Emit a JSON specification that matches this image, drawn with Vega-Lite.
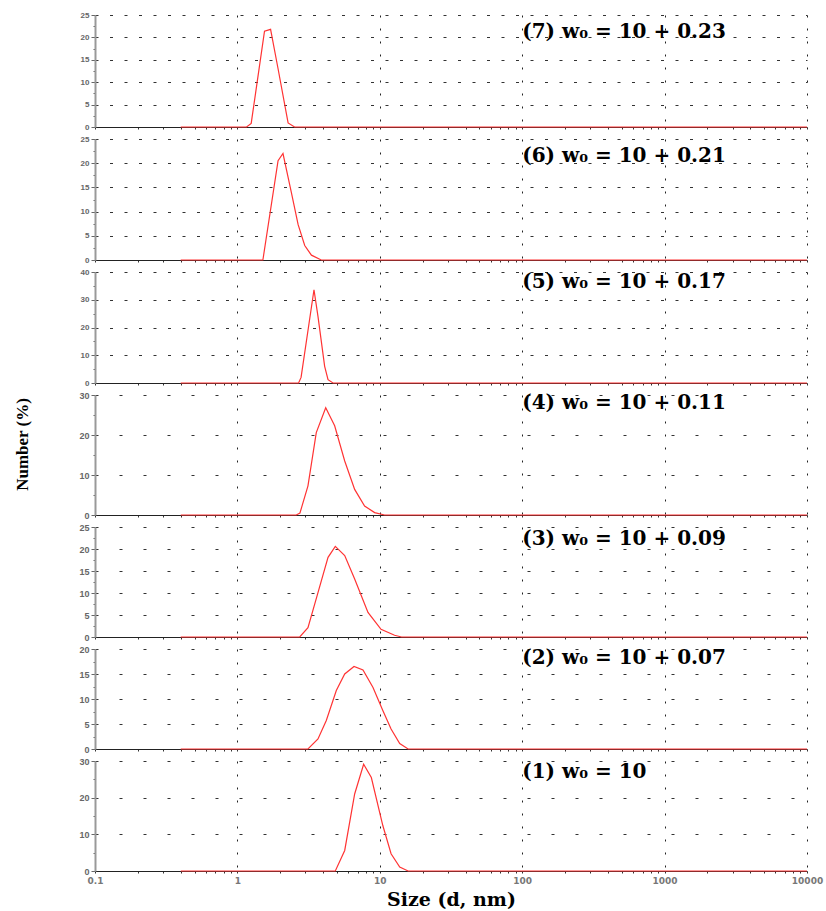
{
  "$schema": "https://vega.github.io/schema/vega-lite/v6.json",
  "background": "white",
  "padding": {"left": 13, "top": 11, "right": 5, "bottom": 5},
  "bounds": "flush",
  "spacing": 12,
  "config": {"view": {"stroke": null}},
  "datasets": {
    "dls": [
      {"panel": 7, "size": 0.4, "number": 0}, {"panel": 7, "size": 1.16, "number": 0}, {"panel": 7, "size": 1.25, "number": 0.8}, {"panel": 7, "size": 1.55, "number": 21.4}, {"panel": 7, "size": 1.71, "number": 21.8}, {"panel": 7, "size": 1.93, "number": 13}, {"panel": 7, "size": 2.27, "number": 0.9}, {"panel": 7, "size": 2.52, "number": 0}, {"panel": 7, "size": 10000, "number": 0},
      {"panel": 6, "size": 0.4, "number": 0}, {"panel": 6, "size": 1.51, "number": 0}, {"panel": 6, "size": 1.93, "number": 20.5}, {"panel": 6, "size": 2.09, "number": 22}, {"panel": 6, "size": 2.39, "number": 14}, {"panel": 6, "size": 2.67, "number": 7.3}, {"panel": 6, "size": 2.97, "number": 3}, {"panel": 6, "size": 3.31, "number": 1}, {"panel": 6, "size": 3.88, "number": 0}, {"panel": 6, "size": 10000, "number": 0},
      {"panel": 5, "size": 0.4, "number": 0}, {"panel": 5, "size": 2.69, "number": 0}, {"panel": 5, "size": 2.8, "number": 2}, {"panel": 5, "size": 3.45, "number": 33.6}, {"panel": 5, "size": 3.68, "number": 24}, {"panel": 5, "size": 4.1, "number": 6}, {"panel": 5, "size": 4.33, "number": 1.2}, {"panel": 5, "size": 4.69, "number": 0}, {"panel": 5, "size": 10000, "number": 0},
      {"panel": 4, "size": 0.4, "number": 0}, {"panel": 4, "size": 2.59, "number": 0}, {"panel": 4, "size": 2.75, "number": 0.5}, {"panel": 4, "size": 3.13, "number": 7.3}, {"panel": 4, "size": 3.58, "number": 20.6}, {"panel": 4, "size": 4.17, "number": 26.8}, {"panel": 4, "size": 4.82, "number": 22.3}, {"panel": 4, "size": 5.67, "number": 13.5}, {"panel": 4, "size": 6.66, "number": 6.4}, {"panel": 4, "size": 7.82, "number": 2.25}, {"panel": 4, "size": 9.2, "number": 0.6}, {"panel": 4, "size": 10.8, "number": 0}, {"panel": 4, "size": 10000, "number": 0},
      {"panel": 3, "size": 0.4, "number": 0}, {"panel": 3, "size": 2.74, "number": 0}, {"panel": 3, "size": 3.13, "number": 2.1}, {"panel": 3, "size": 3.68, "number": 10.1}, {"panel": 3, "size": 4.33, "number": 18.1}, {"panel": 3, "size": 4.87, "number": 20.6}, {"panel": 3, "size": 5.67, "number": 18.5}, {"panel": 3, "size": 6.66, "number": 13.2}, {"panel": 3, "size": 8.26, "number": 5.6}, {"panel": 3, "size": 10.2, "number": 1.75}, {"panel": 3, "size": 12.7, "number": 0.4}, {"panel": 3, "size": 14.2, "number": 0}, {"panel": 3, "size": 10000, "number": 0},
      {"panel": 2, "size": 0.4, "number": 0}, {"panel": 2, "size": 3.13, "number": 0}, {"panel": 2, "size": 3.68, "number": 2}, {"panel": 2, "size": 4.21, "number": 5.7}, {"panel": 2, "size": 4.95, "number": 11.7}, {"panel": 2, "size": 5.67, "number": 15}, {"panel": 2, "size": 6.59, "number": 16.5}, {"panel": 2, "size": 7.62, "number": 15.8}, {"panel": 2, "size": 8.96, "number": 12.3}, {"panel": 2, "size": 10.5, "number": 7.7}, {"panel": 2, "size": 12.0, "number": 4}, {"panel": 2, "size": 13.8, "number": 1.1}, {"panel": 2, "size": 15.8, "number": 0}, {"panel": 2, "size": 10000, "number": 0},
      {"panel": 1, "size": 0.4, "number": 0}, {"panel": 1, "size": 4.87, "number": 0}, {"panel": 1, "size": 5.67, "number": 5.6}, {"panel": 1, "size": 6.66, "number": 21}, {"panel": 1, "size": 7.7, "number": 29.1}, {"panel": 1, "size": 8.72, "number": 25.5}, {"panel": 1, "size": 10.5, "number": 12.4}, {"panel": 1, "size": 12.0, "number": 4.7}, {"panel": 1, "size": 13.8, "number": 1.1}, {"panel": 1, "size": 15.8, "number": 0}, {"panel": 1, "size": 10000, "number": 0}
    ]
  },
  "vconcat": [
    {
      "width": 712, "height": 112,
      "layer": [
        {
          "data": {"name": "dls"},
          "transform": [{"filter": "datum.panel == 7"}],
          "mark": {"type": "line", "color": "#ff3333", "strokeWidth": 1.2},
          "encoding": {
            "x": {"field": "size", "type": "quantitative", "scale": {"type": "log", "domain": [0.1, 10000], "nice": false},
              "axis": {"title": null, "labels": false, "tickCount": 200, "values": [0.1,0.2,0.3,0.4,0.5,0.6,0.7,0.8,0.9,1,2,3,4,5,6,7,8,9,10,20,30,40,50,60,70,80,90,100,200,300,400,500,600,700,800,900,1000,2000,3000,4000,5000,6000,7000,8000,9000,10000],
                "grid": true, "gridColor": "#222", "gridDash": [2, 11], "gridWidth": 1,
                "gridOpacity": {"condition": {"test": "indexof([1,10,100,1000,10000], datum.value) >= 0", "value": 1}, "value": 0},
                "tickSize": 2, "tickColor": "#333", "domainColor": "#222", "domainWidth": 1}},
            "y": {"field": "number", "type": "quantitative", "scale": {"domain": [0, 25], "nice": false},
              "axis": {"title": null, "tickCount": 200, "values": [0,2.5,5,7.5,10,12.5,15,17.5,20,22.5,25],
                "labelExpr": "datum.value % 5 == 0 ? toString(datum.value) : ''", "labelOverlap": false,
                "labelFont": "Liberation Sans", "labelFontSize": 8, "labelFontWeight": "bold", "labelColor": "#666", "labelPadding": 2,
                "grid": true, "gridColor": "#333", "gridDash": [3, 11.5],
                "gridOpacity": {"condition": {"test": "datum.value % 5 == 0 && datum.value > 0", "value": 1}, "value": 0},
                "tickSize": {"condition": {"test": "datum.value % 5 == 0", "value": 4}, "value": 2}, "tickColor": "#666",
                "domainColor": "#999", "domainWidth": 2}}
          }
        },
        {
          "data": {"values": [{"label": "(7) w₀ = 10 + 0.23"}]},
          "mark": {"type": "text", "font": "DejaVu Serif", "fontSize": 20, "fontWeight": "bold", "align": "left", "baseline": "middle", "color": "black", "dx": 0},
          "encoding": {"x": {"datum": 100, "type": "quantitative"}, "y": {"datum": 21.3, "type": "quantitative"}, "text": {"field": "label"}}
        }
      ]
    },
    {
      "width": 712, "height": 121,
      "layer": [
        {
          "data": {"name": "dls"},
          "transform": [{"filter": "datum.panel == 6"}],
          "mark": {"type": "line", "color": "#ff3333", "strokeWidth": 1.2},
          "encoding": {
            "x": {"field": "size", "type": "quantitative", "scale": {"type": "log", "domain": [0.1, 10000], "nice": false},
              "axis": {"title": null, "labels": false, "tickCount": 200, "values": [0.1,0.2,0.3,0.4,0.5,0.6,0.7,0.8,0.9,1,2,3,4,5,6,7,8,9,10,20,30,40,50,60,70,80,90,100,200,300,400,500,600,700,800,900,1000,2000,3000,4000,5000,6000,7000,8000,9000,10000],
                "grid": true, "gridColor": "#222", "gridDash": [2, 11], "gridWidth": 1,
                "gridOpacity": {"condition": {"test": "indexof([1,10,100,1000,10000], datum.value) >= 0", "value": 1}, "value": 0},
                "tickSize": 2, "tickColor": "#333", "domainColor": "#222", "domainWidth": 1}},
            "y": {"field": "number", "type": "quantitative", "scale": {"domain": [0, 25], "nice": false},
              "axis": {"title": null, "tickCount": 200, "values": [0,2.5,5,7.5,10,12.5,15,17.5,20,22.5,25],
                "labelExpr": "datum.value % 5 == 0 ? toString(datum.value) : ''", "labelOverlap": false,
                "labelFont": "Liberation Sans", "labelFontSize": 8, "labelFontWeight": "bold", "labelColor": "#666", "labelPadding": 2,
                "grid": true, "gridColor": "#333", "gridDash": [3, 11.5],
                "gridOpacity": {"condition": {"test": "datum.value % 5 == 0 && datum.value > 0", "value": 1}, "value": 0},
                "tickSize": {"condition": {"test": "datum.value % 5 == 0", "value": 4}, "value": 2}, "tickColor": "#666",
                "domainColor": "#999", "domainWidth": 2}}
          }
        },
        {
          "data": {"values": [{"label": "(6) w₀ = 10 + 0.21"}]},
          "mark": {"type": "text", "font": "DejaVu Serif", "fontSize": 20, "fontWeight": "bold", "align": "left", "baseline": "middle", "color": "black", "dx": 0},
          "encoding": {"x": {"datum": 100, "type": "quantitative"}, "y": {"datum": 21.4, "type": "quantitative"}, "text": {"field": "label"}}
        }
      ]
    },
    {
      "width": 712, "height": 111,
      "layer": [
        {
          "data": {"name": "dls"},
          "transform": [{"filter": "datum.panel == 5"}],
          "mark": {"type": "line", "color": "#ff3333", "strokeWidth": 1.2},
          "encoding": {
            "x": {"field": "size", "type": "quantitative", "scale": {"type": "log", "domain": [0.1, 10000], "nice": false},
              "axis": {"title": null, "labels": false, "tickCount": 200, "values": [0.1,0.2,0.3,0.4,0.5,0.6,0.7,0.8,0.9,1,2,3,4,5,6,7,8,9,10,20,30,40,50,60,70,80,90,100,200,300,400,500,600,700,800,900,1000,2000,3000,4000,5000,6000,7000,8000,9000,10000],
                "grid": true, "gridColor": "#222", "gridDash": [2, 11], "gridWidth": 1,
                "gridOpacity": {"condition": {"test": "indexof([1,10,100,1000,10000], datum.value) >= 0", "value": 1}, "value": 0},
                "tickSize": 2, "tickColor": "#333", "domainColor": "#222", "domainWidth": 1}},
            "y": {"field": "number", "type": "quantitative", "scale": {"domain": [0, 40], "nice": false},
              "axis": {"title": null, "tickCount": 200, "values": [0,5,10,15,20,25,30,35,40],
                "labelExpr": "datum.value % 10 == 0 ? toString(datum.value) : ''", "labelOverlap": false,
                "labelFont": "Liberation Sans", "labelFontSize": 8, "labelFontWeight": "bold", "labelColor": "#666", "labelPadding": 2,
                "grid": true, "gridColor": "#333", "gridDash": [3, 11.5],
                "gridOpacity": {"condition": {"test": "datum.value % 10 == 0 && datum.value > 0", "value": 1}, "value": 0},
                "tickSize": {"condition": {"test": "datum.value % 10 == 0", "value": 4}, "value": 2}, "tickColor": "#666",
                "domainColor": "#999", "domainWidth": 2}}
          }
        },
        {
          "data": {"values": [{"label": "(5) w₀ = 10 + 0.17"}]},
          "mark": {"type": "text", "font": "DejaVu Serif", "fontSize": 20, "fontWeight": "bold", "align": "left", "baseline": "middle", "color": "black", "dx": 0},
          "encoding": {"x": {"datum": 100, "type": "quantitative"}, "y": {"datum": 36.3, "type": "quantitative"}, "text": {"field": "label"}}
        }
      ]
    },
    {
      "width": 712, "height": 120,
      "layer": [
        {
          "data": {"name": "dls"},
          "transform": [{"filter": "datum.panel == 4"}],
          "mark": {"type": "line", "color": "#ff3333", "strokeWidth": 1.2},
          "encoding": {
            "x": {"field": "size", "type": "quantitative", "scale": {"type": "log", "domain": [0.1, 10000], "nice": false},
              "axis": {"title": null, "labels": false, "tickCount": 200, "values": [0.1,0.2,0.3,0.4,0.5,0.6,0.7,0.8,0.9,1,2,3,4,5,6,7,8,9,10,20,30,40,50,60,70,80,90,100,200,300,400,500,600,700,800,900,1000,2000,3000,4000,5000,6000,7000,8000,9000,10000],
                "grid": true, "gridColor": "#222", "gridDash": [2, 11], "gridWidth": 1,
                "gridOpacity": {"condition": {"test": "indexof([1,10,100,1000,10000], datum.value) >= 0", "value": 1}, "value": 0},
                "tickSize": 2, "tickColor": "#333", "domainColor": "#222", "domainWidth": 1}},
            "y": {"field": "number", "type": "quantitative", "scale": {"domain": [0, 30], "nice": false},
              "axis": {"title": "Number (%)", "titleFont": "Liberation Serif", "titleFontSize": 17, "titleFontWeight": "bold", "titleColor": "black", "titlePadding": 47, "titleY": 49,
                "tickCount": 200, "values": [0,5,10,15,20,25,30],
                "labelExpr": "datum.value % 10 == 0 ? toString(datum.value) : ''", "labelOverlap": false,
                "labelFont": "Liberation Sans", "labelFontSize": 9, "labelFontWeight": "bold", "labelColor": "#666", "labelPadding": 2,
                "grid": true, "gridColor": "#333", "gridDash": [3, 21],
                "gridOpacity": {"condition": {"test": "datum.value % 10 == 0 && datum.value > 0", "value": 1}, "value": 0},
                "tickSize": {"condition": {"test": "datum.value % 10 == 0", "value": 4}, "value": 2}, "tickColor": "#666",
                "domainColor": "#999", "domainWidth": 2}}
          }
        },
        {
          "data": {"values": [{"label": "(4) w₀ = 10 + 0.11"}]},
          "mark": {"type": "text", "font": "DejaVu Serif", "fontSize": 20, "fontWeight": "bold", "align": "left", "baseline": "middle", "color": "black", "dx": 0},
          "encoding": {"x": {"datum": 100, "type": "quantitative"}, "y": {"datum": 28, "type": "quantitative"}, "text": {"field": "label"}}
        }
      ]
    },
    {
      "width": 712, "height": 110,
      "layer": [
        {
          "data": {"name": "dls"},
          "transform": [{"filter": "datum.panel == 3"}],
          "mark": {"type": "line", "color": "#ff3333", "strokeWidth": 1.2},
          "encoding": {
            "x": {"field": "size", "type": "quantitative", "scale": {"type": "log", "domain": [0.1, 10000], "nice": false},
              "axis": {"title": null, "labels": false, "tickCount": 200, "values": [0.1,0.2,0.3,0.4,0.5,0.6,0.7,0.8,0.9,1,2,3,4,5,6,7,8,9,10,20,30,40,50,60,70,80,90,100,200,300,400,500,600,700,800,900,1000,2000,3000,4000,5000,6000,7000,8000,9000,10000],
                "grid": true, "gridColor": "#222", "gridDash": [2, 11], "gridWidth": 1,
                "gridOpacity": {"condition": {"test": "indexof([1,10,100,1000,10000], datum.value) >= 0", "value": 1}, "value": 0},
                "tickSize": 2, "tickColor": "#333", "domainColor": "#222", "domainWidth": 1}},
            "y": {"field": "number", "type": "quantitative", "scale": {"domain": [0, 25], "nice": false},
              "axis": {"title": null, "tickCount": 200, "values": [0,2.5,5,7.5,10,12.5,15,17.5,20,22.5,25],
                "labelExpr": "datum.value % 5 == 0 ? toString(datum.value) : ''", "labelOverlap": false,
                "labelFont": "Liberation Sans", "labelFontSize": 9, "labelFontWeight": "bold", "labelColor": "#666", "labelPadding": 2,
                "grid": true, "gridColor": "#333", "gridDash": [3, 21],
                "gridOpacity": {"condition": {"test": "datum.value % 5 == 0 && datum.value > 0", "value": 1}, "value": 0},
                "tickSize": {"condition": {"test": "datum.value % 5 == 0", "value": 4}, "value": 2}, "tickColor": "#666",
                "domainColor": "#999", "domainWidth": 2}}
          }
        },
        {
          "data": {"values": [{"label": "(3) w₀ = 10 + 0.09"}]},
          "mark": {"type": "text", "font": "DejaVu Serif", "fontSize": 20, "fontWeight": "bold", "align": "left", "baseline": "middle", "color": "black", "dx": 0},
          "encoding": {"x": {"datum": 100, "type": "quantitative"}, "y": {"datum": 22.2, "type": "quantitative"}, "text": {"field": "label"}}
        }
      ]
    },
    {
      "width": 712, "height": 100,
      "layer": [
        {
          "data": {"name": "dls"},
          "transform": [{"filter": "datum.panel == 2"}],
          "mark": {"type": "line", "color": "#ff3333", "strokeWidth": 1.2},
          "encoding": {
            "x": {"field": "size", "type": "quantitative", "scale": {"type": "log", "domain": [0.1, 10000], "nice": false},
              "axis": {"title": null, "labels": false, "tickCount": 200, "values": [0.1,0.2,0.3,0.4,0.5,0.6,0.7,0.8,0.9,1,2,3,4,5,6,7,8,9,10,20,30,40,50,60,70,80,90,100,200,300,400,500,600,700,800,900,1000,2000,3000,4000,5000,6000,7000,8000,9000,10000],
                "grid": true, "gridColor": "#222", "gridDash": [2, 11], "gridWidth": 1,
                "gridOpacity": {"condition": {"test": "indexof([1,10,100,1000,10000], datum.value) >= 0", "value": 1}, "value": 0},
                "tickSize": 2, "tickColor": "#333", "domainColor": "#222", "domainWidth": 1}},
            "y": {"field": "number", "type": "quantitative", "scale": {"domain": [0, 20], "nice": false},
              "axis": {"title": null, "tickCount": 200, "values": [0,2.5,5,7.5,10,12.5,15,17.5,20],
                "labelExpr": "datum.value % 5 == 0 ? toString(datum.value) : ''", "labelOverlap": false,
                "labelFont": "Liberation Sans", "labelFontSize": 9, "labelFontWeight": "bold", "labelColor": "#666", "labelPadding": 2,
                "grid": true, "gridColor": "#333", "gridDash": [3, 21],
                "gridOpacity": {"condition": {"test": "datum.value % 5 == 0 && datum.value > 0", "value": 1}, "value": 0},
                "tickSize": {"condition": {"test": "datum.value % 5 == 0", "value": 4}, "value": 2}, "tickColor": "#666",
                "domainColor": "#999", "domainWidth": 2}}
          }
        },
        {
          "data": {"values": [{"label": "(2) w₀ = 10 + 0.07"}]},
          "mark": {"type": "text", "font": "DejaVu Serif", "fontSize": 20, "fontWeight": "bold", "align": "left", "baseline": "middle", "color": "black", "dx": 0},
          "encoding": {"x": {"datum": 100, "type": "quantitative"}, "y": {"datum": 18.2, "type": "quantitative"}, "text": {"field": "label"}}
        }
      ]
    },
    {
      "width": 712, "height": 110,
      "layer": [
        {
          "data": {"name": "dls"},
          "transform": [{"filter": "datum.panel == 1"}],
          "mark": {"type": "line", "color": "#ff3333", "strokeWidth": 1.2},
          "encoding": {
            "x": {"field": "size", "type": "quantitative", "scale": {"type": "log", "domain": [0.1, 10000], "nice": false},
              "axis": {"title": "Size (d, nm)", "titleFont": "DejaVu Serif", "titleFontSize": 19, "titleFontWeight": "bold", "titleColor": "black", "titlePadding": 5,
                "tickCount": 200, "values": [0.1,0.2,0.3,0.4,0.5,0.6,0.7,0.8,0.9,1,2,3,4,5,6,7,8,9,10,20,30,40,50,60,70,80,90,100,200,300,400,500,600,700,800,900,1000,2000,3000,4000,5000,6000,7000,8000,9000,10000],
                "labelExpr": "datum.value == 0.1 ? '0.1' : (indexof([1,10,100,1000,10000], datum.value) >= 0 ? toString(datum.value) : '')",
                "labelFont": "DejaVu Sans", "labelFontSize": 9, "labelFontWeight": "bold", "labelColor": "#777", "labelPadding": 3, "labelOverlap": false, "labelFlush": false,
                "grid": true, "gridColor": "#222", "gridDash": [2, 11], "gridWidth": 1,
                "gridOpacity": {"condition": {"test": "indexof([1,10,100,1000,10000], datum.value) >= 0", "value": 1}, "value": 0},
                "tickSize": 2, "tickColor": "#333", "domainColor": "#222", "domainWidth": 1}},
            "y": {"field": "number", "type": "quantitative", "scale": {"domain": [0, 30], "nice": false},
              "axis": {"title": null, "tickCount": 200, "values": [0,5,10,15,20,25,30],
                "labelExpr": "datum.value % 10 == 0 ? toString(datum.value) : ''", "labelOverlap": false,
                "labelFont": "Liberation Sans", "labelFontSize": 9, "labelFontWeight": "bold", "labelColor": "#666", "labelPadding": 2,
                "grid": true, "gridColor": "#333", "gridDash": [3, 21],
                "gridOpacity": {"condition": {"test": "datum.value % 10 == 0 && datum.value > 0", "value": 1}, "value": 0},
                "tickSize": {"condition": {"test": "datum.value % 10 == 0", "value": 4}, "value": 2}, "tickColor": "#666",
                "domainColor": "#999", "domainWidth": 2}}
          }
        },
        {
          "data": {"values": [{"label": "(1) w₀ = 10"}]},
          "mark": {"type": "text", "font": "DejaVu Serif", "fontSize": 20, "fontWeight": "bold", "align": "left", "baseline": "middle", "color": "black", "dx": 0},
          "encoding": {"x": {"datum": 100, "type": "quantitative"}, "y": {"datum": 27, "type": "quantitative"}, "text": {"field": "label"}}
        }
      ]
    }
  ]
}
